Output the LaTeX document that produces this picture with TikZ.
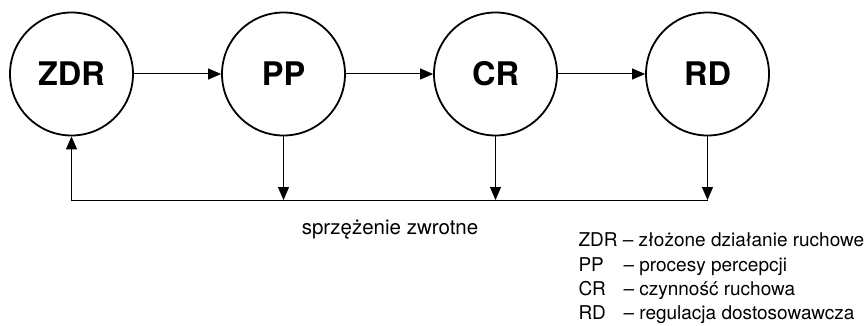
\documentclass[tikz,border=0pt]{standalone}
\usepackage{fontspec}
\setmainfont{TeX Gyre Heros}
\usepackage{tikz}
\usetikzlibrary{arrows.meta,automata,positioning}
\newcommand\D{212}

\begin{document}
\begin{tikzpicture}[->,>={Triangle[length=13pt,width=11pt]},x=1pt,y=-1pt,
                    line width=1pt]

  \tikzstyle{every state}=[circle,draw,line width=1.8pt,minimum size=123pt,
                           inner sep=0pt,font=\fontsize{32.5}{38}\selectfont\bfseries]
  \tikzstyle{legend}=[anchor=base west,inner sep=0pt,font=\fontsize{19}{23}\selectfont]

  \useasboundingbox (0,0) rectangle (864,326);

  \node[state] (ZDR) at (71.5,74)      {ZDR};
  \node[state] (PP)  at (71.5+\D,74)   {PP};
  \node[state] (CR)  at (71.5+2*\D,74) {CR};
  \node[state] (RD)  at (71.5+3*\D,74) {RD};

  % feedback line
  \coordinate (fbL) at (ZDR.south |- 0,200);
  \coordinate (fbR) at (RD.south |- 0,200);

\path
(ZDR) edge (PP)
(PP)  edge (CR)
(CR)  edge (RD)
(PP.south) edge (PP.south |- fbL)
(CR.south) edge (CR.south |- fbL)
(RD.south) edge (fbR)
;
  \draw (fbR) -- (fbL) -- (ZDR.south);

  \node[legend,anchor=base,font=\fontsize{20.5}{24}\selectfont] (fb) at (390,234) {sprzężenie zwrotne};

  % legend
  \node[legend] (lZDR) at (578,246) {ZDR – złożone działanie ruchowe};
  \node[legend] (lPP)  at (578,271) {PP};
  \node[legend] (lCR)  at (578,295) {CR};
  \node[legend] (lRD)  at (578,319) {RD};
  \node[legend] (dPP)  at (623,271) {– procesy percepcji};
  \node[legend] (dCR)  at (623,295) {– czynność ruchowa};
  \node[legend] (dRD)  at (623,319) {– regulacja dostosowawcza};
\end{tikzpicture}
\end{document}
